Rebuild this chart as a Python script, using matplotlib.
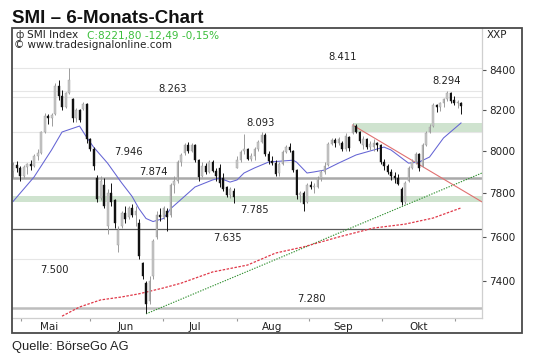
import matplotlib
matplotlib.use('Agg')
import matplotlib.pyplot as plt
import matplotlib.transforms as mtransforms
from matplotlib.patches import Rectangle
from matplotlib.ticker import FixedLocator, NullLocator, NullFormatter

# ---------------- data ----------------
opens = [7905, 7935, 7920, 7880, 7925, 7940, 7930, 7975, 7990, 8095,
         8170, 8160, 8180, 8320, 8270, 8215, 8285, 8255, 8160, 8200,
         8205, 8230, 8060, 8010, 7870, 7780, 7840, 7650, 7800, 7770,
         7560, 7650, 7710, 7690, 7730, 7700, 7660, 7480, 7390, 7310,
         7420, 7600, 7700, 7690, 7720, 7700, 7840, 7860, 7950, 7990,
         8030, 8000, 8030, 7960, 7880, 7930, 7900, 7950, 7905, 7920,
         7870, 7830, 7790, 7810, 7920, 7960, 8000, 8010, 7965, 7975,
         8010, 8045, 8080, 7985, 7955, 7945, 7895, 7940, 7995, 8020,
         8000, 7910, 7790, 7800, 7760, 7840, 7830, 7830, 7870, 7900,
         7935, 8035, 8055, 8040, 8040, 8010, 8070, 8090, 8120, 8095,
         8030, 8060, 8020, 8020, 8040, 8030, 7950, 7930, 7900, 7880,
         7870, 7820, 7760, 7860, 7920, 7945, 7985, 7930, 8030, 8095,
         8120, 8225, 8215, 8235, 8255, 8285, 8250, 8235, 8235]
highs = [7950, 7955, 7930, 7935, 7945, 7960, 7985, 8010, 8100, 8185,
         8180, 8185, 8335, 8350, 8300, 8290, 8411, 8260, 8210, 8205,
         8240, 8235, 8065, 8020, 7885, 7880, 7870, 7820, 7850, 7775,
         7650, 7720, 7740, 7740, 7750, 7740, 7680, 7485, 7400, 7420,
         7590, 7720, 7730, 7740, 7730, 7850, 7880, 7960, 7990, 8040,
         8045, 8040, 8035, 7965, 7950, 7945, 7960, 7960, 7920, 7940,
         7895, 7835, 7830, 7825, 7975, 8005, 8085, 8015, 7990, 8020,
         8055, 8093, 8090, 8000, 7975, 7960, 7950, 8005, 8030, 8040,
         8005, 7915, 7810, 7810, 7850, 7860, 7850, 7880, 7910, 7950,
         8045, 8065, 8065, 8070, 8050, 8090, 8075, 8135, 8130, 8100,
         8075, 8065, 8050, 8060, 8045, 8035, 7965, 7940, 7915, 7900,
         7890, 7830, 7860, 7930, 7965, 7995, 7990, 8040, 8100, 8130,
         8235, 8230, 8240, 8260, 8294, 8290, 8270, 8250, 8240]
lows = [7870, 7900, 7860, 7870, 7890, 7910, 7925, 7960, 7985, 8090,
        8130, 8120, 8175, 8250, 8200, 8210, 8280, 8140, 8140, 8140,
        8200, 8040, 8000, 7910, 7760, 7770, 7730, 7610, 7740, 7640,
        7530, 7640, 7660, 7680, 7690, 7650, 7500, 7410, 7260, 7300,
        7410, 7590, 7670, 7680, 7625, 7690, 7800, 7850, 7930, 7980,
        7990, 7995, 7950, 7860, 7875, 7890, 7895, 7900, 7860, 7830,
        7810, 7785, 7780, 7755, 7920, 7950, 7985, 7960, 7955, 7960,
        8000, 8040, 7975, 7940, 7935, 7880, 7880, 7935, 7990, 7995,
        7900, 7775, 7760, 7720, 7755, 7820, 7800, 7825, 7860, 7890,
        7930, 8030, 8020, 8030, 8000, 8000, 8000, 8085, 8090, 8040,
        8010, 8010, 8005, 8000, 8000, 7940, 7910, 7890, 7865, 7850,
        7840, 7745, 7750, 7855, 7915, 7940, 7905, 7925, 8025, 8090,
        8115, 8190, 8195, 8215, 8245, 8235, 8225, 8210, 8180]
closes = [7935, 7920, 7880, 7925, 7940, 7930, 7975, 7990, 8095, 8170,
          8160, 8175, 8320, 8270, 8215, 8285, 8350, 8160, 8200, 8150,
          8230, 8060, 8010, 7930, 7775, 7860, 7740, 7800, 7760, 7660,
          7630, 7710, 7680, 7730, 7700, 7720, 7510, 7420, 7300, 7400,
          7580, 7700, 7690, 7730, 7690, 7840, 7860, 7950, 7980, 8030,
          8000, 8030, 7960, 7875, 7930, 7900, 7950, 7905, 7880, 7850,
          7820, 7790, 7820, 7785, 7960, 7995, 8010, 7965, 7975, 8010,
          8045, 8080, 7985, 7955, 7945, 7890, 7940, 7995, 8020, 8005,
          7910, 7790, 7800, 7750, 7840, 7830, 7835, 7870, 7900, 7930,
          8035, 8055, 8040, 8060, 8010, 8075, 8015, 8120, 8095, 8050,
          8060, 8020, 8035, 8040, 8030, 7950, 7930, 7900, 7880, 7870,
          7845, 7760, 7850, 7920, 7950, 7985, 7920, 8030, 8090, 8115,
          8225, 8215, 8235, 8255, 8285, 8245, 8235, 8240, 8222]

# short moving average (blue)
ma_idx = [0, 6, 11, 14, 19, 21, 23, 27, 31, 34, 36, 38, 40, 43, 45, 49,
          52, 57, 59, 62, 64, 66, 69, 73, 80, 81, 84, 86, 89, 93, 98,
          106, 108, 113, 116, 119, 123, 128]
ma_val = [7762, 7877, 8006, 8093, 8122, 8068, 8020, 7943, 7850, 7786, 7728,
          7683, 7669, 7683, 7728, 7786, 7830, 7863, 7872, 7853, 7863, 7896,
          7920, 7948, 7957, 7948, 7896, 7901, 7910, 7943, 7982, 8020, 8006,
          7943, 7948, 7972, 8064, 8137]

# 200-day average (red dashed)
ma200_idx = [14, 19, 25, 31, 36, 43, 48, 57, 67, 75, 83, 93, 103, 112, 120, 128]
ma200_val = [7245, 7285, 7316, 7329, 7343, 7369, 7390, 7440, 7471, 7525,
             7553, 7598, 7639, 7657, 7685, 7732]

support_idx = [38, 134]
support_val = [7255, 7896]
resist_idx = [97, 134]
resist_val = [8127, 7760]

band_low = [7758, 7788]
band_high = [8093, 8135]
band_high_start = 97

level_values = [8411, 8263, 8093, 7946, 7874, 7785, 7635, 7500, 7280, 8294]
level_texts = ['8.411', '8.263', '8.093', '7.946', '7.874', '7.785',
               '7.635', '7.500', '7.280', '8.294']
faint_levels = [8411, 8294, 8263, 8093, 7946, 7500]

month_starts = [2.3, 22, 42.9, 64, 84.6, 105.4, 126.3]
month_mids = [10.3, 32.3, 52, 74, 94.3, 116]
month_names = ['Mai', 'Jun', 'Jul', 'Aug', 'Sep', 'Okt']

yticks = [7400, 7600, 7800, 8000, 8200, 8400]

# ---------------- layout ----------------
W, H = 540, 358
fig = plt.figure(figsize=(W / 100, H / 100), dpi=100)
fig.patch.set_facecolor('white')

def fx(px):
    return px / W

def fy(py):
    return 1 - py / H

ax = fig.add_axes([fx(12), fy(318), fx(482) - fx(12), fy(28) - fy(318)])
ax.set_yscale('log')
ax.set_ylim(7237, 8615)
ax.set_xlim(-0.3, 134)
ax.set_facecolor('white')

idx = list(range(len(closes)))
lo_x, hi_x = ax.get_xlim()

# faint level lines
for v in faint_levels:
    ax.axhline(v, color='#e6e6e6', lw=0.8, zorder=1)

# bands
ax.axhspan(band_low[0], band_low[1], color='#cfe3cf', lw=0, zorder=1)
ax.fill_between([band_high_start, hi_x], band_high[0], band_high[1],
                color='#cfe3cf', lw=0, zorder=1)

# horizontal support/resistance lines
ax.axhline(7874, color='#a9a9a9', lw=1.8, zorder=2)
ax.axhline(7635, color='#5a5a5a', lw=0.9, zorder=2)
ax.axhline(7280, color='#bdbdbd', lw=1.8, zorder=2)

# trend lines
ax.plot(support_idx, support_val, color='#2f8f2f', lw=0.8, ls=(0, (1.2, 1.2)), zorder=3)
ax.plot(resist_idx, resist_val, color='#e07070', lw=0.8, zorder=3)

# moving averages
ax.plot(ma200_idx, ma200_val, color='#e03848', lw=0.9, ls=(0, (2.0, 1.2)), zorder=3)
ax.plot(ma_idx, ma_val, color='#6464d4', lw=0.75, zorder=4)

# candles
for i, o, h, l, c in zip(idx, opens, highs, lows, closes):
    up = c >= o
    body = '#c8c8c8' if up else '#111111'
    edge = '#9c9c9c' if up else '#111111'
    ax.vlines(i, l, h, color=edge, lw=0.7, zorder=5)
    ax.bar(i, abs(c - o) if abs(c - o) > 0 else 2, bottom=min(o, c), width=0.55,
           color=body, edgecolor=edge, lw=0.3, zorder=6)

# level labels
offsets = {8411: 11, 8263: 8, 8093: 9, 7946: 10, 7874: 6, 7785: -13,
           7635: -9, 7500: -11, 7280: 9, 8294: 10}
label_x = {8411: 94.3, 8263: 45.7, 8093: 70.6, 7946: 32.9, 7874: 40,
           7785: 69.1, 7635: 61.4, 7500: 11.7, 7280: 85.4, 8294: 124}
for v, t in zip(level_values, level_texts):
    tr = mtransforms.offset_copy(ax.transData, fig=fig, x=0, y=offsets[v], units='dots')
    ax.text(label_x[v], v, t, transform=tr, ha='center', va='center',
            fontsize=7.2, family='DejaVu Sans', color='#222222', zorder=7)

# axes styling
for s in ['left', 'top']:
    ax.spines[s].set_visible(False)
for s in ['right', 'bottom']:
    ax.spines[s].set_color('#cfcfcf')
    ax.spines[s].set_linewidth(0.9)

ax.yaxis.tick_right()
ax.yaxis.set_major_locator(FixedLocator(yticks))
ax.yaxis.set_minor_locator(NullLocator())
ax.yaxis.set_minor_formatter(NullFormatter())
ax.set_yticklabels([str(v) for v in yticks])
ax.tick_params(axis='y', which='major', direction='out', length=3, width=0.8,
               color='#555555', pad=2, labelsize=7.5, labelcolor='#222222')

ax.xaxis.set_major_locator(FixedLocator(month_starts))
ax.xaxis.set_major_formatter(NullFormatter())
ax.xaxis.set_minor_locator(FixedLocator(month_mids))
ax.set_xticklabels(month_names, minor=True)
ax.tick_params(axis='x', which='major', direction='out', length=2.5, width=0.8,
               color='#999999')
ax.tick_params(axis='x', which='minor', length=0, pad=3, labelsize=7.5,
               labelcolor='#222222')
for lab in ax.get_yticklabels() + ax.get_xticklabels(minor=True):
    lab.set_family('DejaVu Sans')

# header inside chart
fig.text(fx(16), fy(35.5), 'ф', fontsize=7,
         family='DejaVu Sans', va='center', ha='left', color='#333333')
fig.text(fx(27), fy(35.5), 'SMI Index', fontsize=7.6, family='DejaVu Sans',
         va='center', ha='left', color='#222222')
fig.text(fx(87), fy(35.5), 'C:8221,80 -12,49 -0,15%', fontsize=7.6,
         family='DejaVu Sans', va='center', ha='left', color='#3cbf3c')
fig.text(fx(14), fy(45), '© www.tradesignalonline.com', fontsize=7.5,
         family='DejaVu Sans', va='center', ha='left', color='#222222')
fig.text(fx(487), fy(35), 'XXP', fontsize=7.5, family='DejaVu Sans',
         va='center', ha='left', color='#222222')

# outer frame
fig.patches.append(Rectangle((fx(12), fy(333)), fx(522) - fx(12), fy(28) - fy(333),
                             transform=fig.transFigure, fill=False,
                             ec='#4a4a4a', lw=1.3, zorder=10))

# title and source
fig.text(fx(12), fy(23), 'SMI – 6-Monats-Chart', fontsize=13.5, weight='bold',
         family='Liberation Sans', va='baseline', ha='left', color='#111111')
fig.text(fx(12), fy(350), 'Quelle: BörseGo AG', fontsize=9.3,
         family='Liberation Sans', va='baseline', ha='left', color='#222222')

fig.savefig('out.png', dpi=100)
